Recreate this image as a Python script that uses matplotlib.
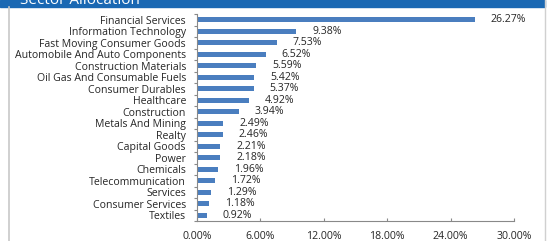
import matplotlib
matplotlib.use('Agg')
import matplotlib.pyplot as plt
from matplotlib.patches import Rectangle
from matplotlib.lines import Line2D

# Data
sectors = ['Financial Services', 'Information Technology', 'Fast Moving Consumer Goods',
           'Automobile And Auto Components', 'Construction Materials',
           'Oil Gas And Consumable Fuels', 'Consumer Durables', 'Healthcare',
           'Construction', 'Metals And Mining', 'Realty', 'Capital Goods', 'Power',
           'Chemicals', 'Telecommunication', 'Services', 'Consumer Services', 'Textiles']
weights = [26.27, 9.38, 7.53, 6.52, 5.59, 5.42, 5.37, 4.92, 3.94, 2.49, 2.46,
           2.21, 2.18, 1.96, 1.72, 1.29, 1.18, 0.92]
x_ticks = [0, 6, 12, 18, 24, 30]

W, H = 559, 241
plt.rcParams['font.family'] = ['Open Sans', 'DejaVu Sans']
text_col = '#262626'
axis_col = '#898989'
fs = 7.6

fig = plt.figure(figsize=(W / 100, H / 100), dpi=100)

# header band with title (cut off at the top, as in the source)
fig.patches.append(Rectangle((0, 1 - 7 / H), 545 / W, 7 / H, transform=fig.transFigure,
                             color='#1a68b3', zorder=0))
fig.text(20 / W, 1 - 4 / H, 'Sector Allocation', color='white', fontsize=11,
         va='baseline', ha='left')
# frame lines
fig.lines.append(Line2D([8.5 / W, 8.5 / W], [0, 1 - 7 / H], transform=fig.transFigure,
                        color='#c8c8c8', lw=1.2))
fig.lines.append(Line2D([544.5 / W, 544.5 / W], [0, 1], transform=fig.transFigure,
                        color='#d0d0d0', lw=1.0))

ax = fig.add_axes([197 / W, 1 - 221 / H, (514 - 197) / W, (221 - 14) / H])
ypos = list(range(len(sectors)))
ax.barh(ypos, weights, height=0.42, color='#4a7ebf')
for y, v in zip(ypos, weights):
    ax.annotate(f'{v:.2f}%', (v, y), xytext=(11.5, 0), textcoords='offset points',
                ha='left', va='center', fontsize=fs, color=text_col)

ax.set_xlim(0, 30)
ax.set_ylim(len(sectors) - 0.5, -0.5)
ax.set_xticks(x_ticks)
ax.set_xticklabels([f'{t:.2f}%' for t in x_ticks])
ax.set_yticks(ypos)
ax.set_yticklabels(sectors)
ax.set_yticks([i - 0.5 for i in range(len(sectors) + 1)], minor=True)

for s in ['top', 'right']:
    ax.spines[s].set_visible(False)
for s in ['left', 'bottom']:
    ax.spines[s].set_color(axis_col)
    ax.spines[s].set_linewidth(0.8)

ax.tick_params(axis='y', which='major', length=0, pad=8, labelsize=fs, labelcolor=text_col)
ax.tick_params(axis='y', which='minor', length=2.5, color=axis_col, width=0.8)
ax.tick_params(axis='x', direction='in', length=2.5, color=axis_col, width=0.8,
               pad=7, labelsize=fs, labelcolor=text_col)

fig.savefig('out.png', dpi=100)
